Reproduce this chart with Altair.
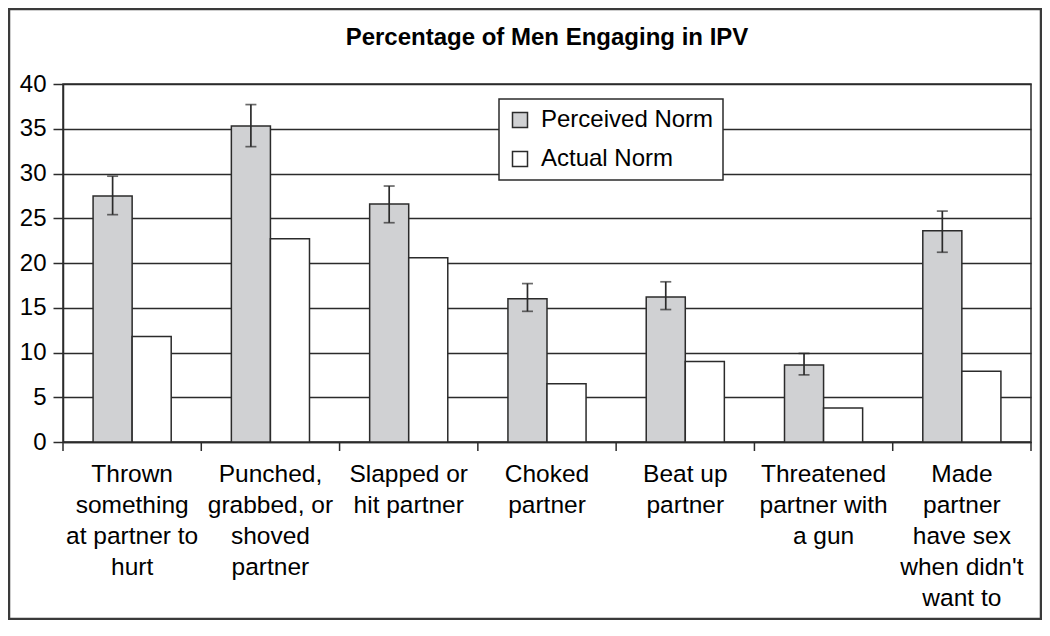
import altair as alt
import pandas as pd

TITLE = "Percentage of Men Engaging in IPV"
categories = [
    "Thrown\nsomething\nat partner to\nhurt",
    "Punched,\ngrabbed, or\nshoved\npartner",
    "Slapped or\nhit partner",
    "Choked\npartner",
    "Beat up\npartner",
    "Threatened\npartner with\na gun",
    "Made\npartner\nhave sex\nwhen didn't\nwant to",
]
series = ["Perceived Norm", "Actual Norm"]
perceived = [27.5, 35.3, 26.6, 16.0, 16.2, 8.6, 23.6]
actual = [11.8, 22.7, 20.6, 6.5, 9.0, 3.8, 7.9]
err_low = [25.4, 33.0, 24.5, 14.6, 14.8, 7.5, 21.2]
err_high = [29.7, 37.7, 28.6, 17.7, 17.9, 9.9, 25.8]
y_ticks = [0, 5, 10, 15, 20, 25, 30, 35, 40]
colors = ["#d0d1d3", "#ffffff"]

FONT = "Liberation Sans"
INK = "#2b2b2b"
W, H = 968, 358

bars_df = pd.DataFrame(
    {
        "category": categories * 2,
        "series": [series[0]] * len(categories) + [series[1]] * len(categories),
        "value": perceived + actual,
    }
)
err_df = pd.DataFrame(
    {"category": categories, "series": series[0], "low": err_low, "high": err_high}
)
cat_df = pd.DataFrame({"category": categories})
last_df = pd.DataFrame({"category": categories[-1:]})
title_df = pd.DataFrame({"t": [TITLE]})

x_axis = alt.Axis(
    title=None,
    labelExpr="split(datum.label, '\\n')",
    labelAngle=0,
    labelFontSize=24.5,
    labelLineHeight=31,
    labelPadding=20,
    labelLimit=300,
    labelOverlap=False,
    ticks=False,
    tickSize=0,
    grid=False,
)
x_scale = alt.Scale(domain=categories, paddingInner=0, paddingOuter=0)


def X(band=None):
    kw = {}
    if band is not None:
        kw["bandPosition"] = band
    return alt.X("category:N", sort=categories, scale=x_scale, axis=x_axis, **kw)


y_scale = alt.Scale(domain=[0, 40], nice=False, zero=True)
y_axis = alt.Axis(
    title=None,
    values=y_ticks,
    labelFontSize=24,
    labelPadding=7,
    tickSize=10,
    grid=True,
)
xoff = alt.XOffset(
    "series:N", sort=series, scale=alt.Scale(domain=series, paddingInner=0, paddingOuter=0.77)
)

bars = alt.Chart(bars_df).mark_bar(stroke=INK, strokeWidth=1.5).encode(
    x=X(),
    xOffset=xoff,
    y=alt.Y("value:Q", scale=y_scale, axis=y_axis),
    color=alt.Color(
        "series:N",
        sort=series,
        scale=alt.Scale(domain=series, range=colors),
        legend=alt.Legend(
            title=None,
            orient="none",
            legendX=436,
            legendY=15,
            labelFontSize=24,
            labelFont=FONT,
            labelColor="#000000",
            labelOffset=9,
            labelLimit=400,
            symbolType="square",
            symbolSize=225,
            symbolStrokeColor=INK,
            symbolStrokeWidth=1.5,
            padding=9,
            rowPadding=15,
            strokeColor=INK,
            fillColor="#ffffff",
        ),
    ),
)

err_rule = alt.Chart(err_df).mark_rule(color=INK, strokeWidth=1.7).encode(
    x=X(),
    xOffset=xoff,
    y=alt.Y("low:Q", scale=y_scale, axis=y_axis),
    y2="high:Q",
)
err_lo = alt.Chart(err_df).mark_tick(color=INK, thickness=1.7, size=11, orient="horizontal").encode(
    x=X(), xOffset=xoff, y=alt.Y("low:Q", scale=y_scale, axis=y_axis)
)
err_hi = alt.Chart(err_df).mark_tick(color=INK, thickness=1.7, size=11, orient="horizontal").encode(
    x=X(), xOffset=xoff, y=alt.Y("high:Q", scale=y_scale, axis=y_axis)
)

xticks = alt.Chart(cat_df).mark_rule(color=INK, strokeWidth=1.5).encode(
    x=X(0), y=alt.value(H), y2=alt.value(H + 9)
)
xtick_last = alt.Chart(last_df).mark_rule(color=INK, strokeWidth=1.5).encode(
    x=X(1), y=alt.value(H), y2=alt.value(H + 9)
)

title = alt.Chart(title_df).mark_text(
    font=FONT, fontSize=24, fontWeight="bold", color="#000000", align="center", baseline="alphabetic"
).encode(text="t:N", x=alt.value(W / 2), y=alt.value(-39))

frame = alt.Chart(title_df).mark_rect(fillOpacity=0, stroke="#3a3a3a", strokeWidth=2.5).encode(
    x=alt.value(-54), x2=alt.value(978), y=alt.value(-75), y2=alt.value(535)
)

chart = (
    alt.layer(frame, bars, err_rule, err_lo, err_hi, xticks, xtick_last, title)
    .properties(
        width=W,
        height=H,
        padding={"left": 55, "top": 76, "right": 11, "bottom": 178},
        autosize=alt.AutoSizeParams(type="none"),
        background="#ffffff",
    )
    .configure_view(stroke=INK, strokeWidth=1.5)
    .configure_axis(
        labelFont=FONT,
        labelColor="#000000",
        domainColor=INK,
        domainWidth=1.5,
        tickColor=INK,
        tickWidth=1.5,
        gridColor=INK,
        gridWidth=1.5,
        gridOpacity=1,
    )
    .configure_legend(strokeWidth=1.5)
)

chart.save("out.html", embed_options={"renderer": "svg", "actions": False})
